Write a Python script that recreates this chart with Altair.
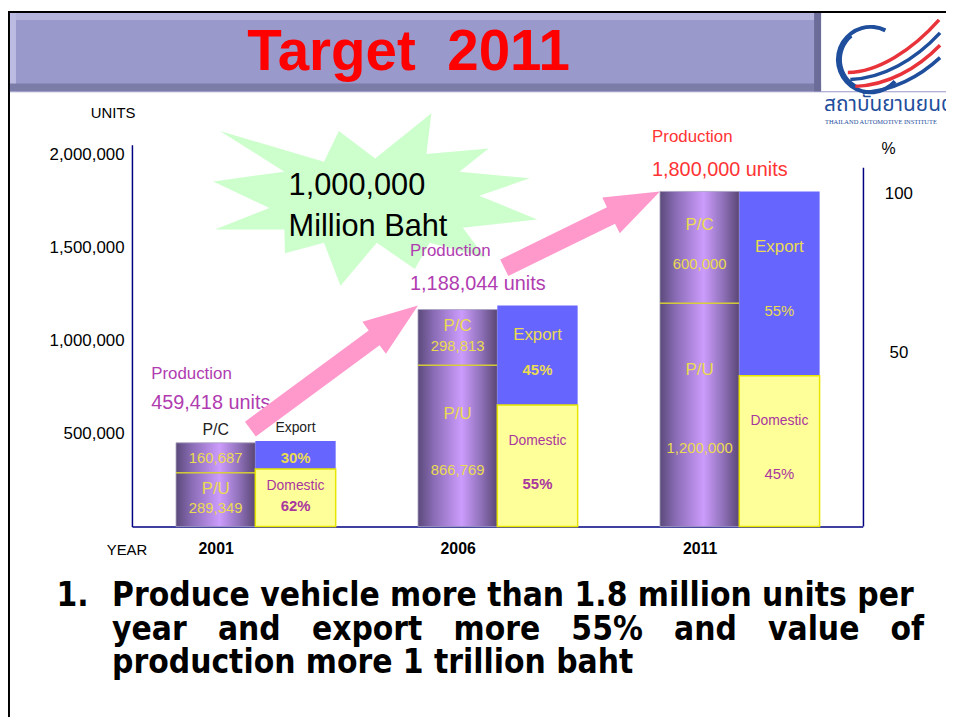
import math
import altair as alt
import pandas as pd

# ---------------- data ----------------
years = ["2001", "2006", "2011"]
production = [459418, 1188044, 1800000]
production_text = ["459,418 units", "1,188,044 units", "1,800,000 units"]
pc_units = [160687, 298813, 600000]
pc_text = ["160,687", "298,813", "600,000"]
pu_units = [289349, 866769, 1200000]
pu_text = ["289,349", "866,769", "1,200,000"]
export_pct = [30, 45, 55]
domestic_pct = [62, 55, 45]
unit_ticks = [500000, 1000000, 1500000, 2000000]
pct_ticks = [50, 100]
title_text = "Target\u00a0\u00a02011"
burst_lines = ["1,000,000", "Million Baht"]
NB = "\u00a0" * 3
bottom_num = "1."
bottom_lines = [
    "Produce vehicle more than 1.8 million units per",
    NB.join(["year", "and", "export", "more", "55%", "and", "value", "of"]),
    "production more 1 trillion baht",
]
logo_thai = "สถาบันยานยนต์"
logo_en = "THAILAND AUTOMOTIVE INSTITUTE"

# ---------------- style / layout ----------------
FONT = "Liberation Sans"
BFONT = "DejaVu Sans Condensed, Liberation Sans"
NAVY = "#000080"
YEL = "#eadb50"
PURT = "#a8379f"
DARK = "#222222"
prod_colors = ["#b03cb0", "#b03cb0", "#ff3333"]
W, H = 737, 385
YMAX = 2050000
XPAD = 0.51

XS = alt.Scale(type="point", domain=years, padding=XPAD)
XA = alt.Axis(title=None, ticks=False, domainColor=NAVY, domainWidth=1.5, labelAngle=0,
              labelOffset=-40, labelPadding=14, labelFont=FONT, labelFontSize=16,
              labelFontWeight="bold", labelColor="black", grid=False)
YS = alt.Scale(domain=[0, YMAX], nice=False, zero=True)
YA = alt.Axis(title=None, ticks=False, domainColor=NAVY, domainWidth=1.5, values=unit_ticks,
              labelExpr="format(datum.value, ',')", labelFont=FONT, labelFontSize=17,
              labelColor="black", labelPadding=8, grid=False)


def X():
    return alt.X("year:N", scale=XS, axis=XA, title=None)


def Y(f):
    return alt.Y(f, type="quantitative", scale=YS, axis=YA, title=None)


def px(i):
    step = W / (len(years) - 1 + 2 * XPAD)
    return step * (XPAD + i)


def py(v):
    return H * (1 - v / YMAX)


D = pd.DataFrame({"k": [0]})


def rect(x, x2, y, y2, color):
    return alt.Chart(D).mark_rect(color=color).encode(
        x=alt.value(x), x2=alt.value(x2), y=alt.value(y), y2=alt.value(y2))


def label(text, x, y, size, color="black", weight="normal", align="center", font=FONT):
    return alt.Chart(D).mark_text(text=text, fontSize=size, color=color, fontWeight=weight,
                                  align=align, baseline="middle", font=font).encode(
        x=alt.value(x), y=alt.value(y))


# ---------------- tables ----------------
left_rows, right_rows, lab = [], [], []


def add(i, text, y, color, size, side, weight="normal", place="in"):
    lab.append(dict(year=years[i], text=text, y=y, color=color, size=size,
                    side=side, weight=weight, place=place))


def at(s, e, f):
    return e - f * (e - s)


for i, yr in enumerate(years):
    pu0, pu1 = 0, pu_units[i]
    pc0, pc1 = pu1, pu1 + pc_units[i]
    dom1 = production[i] * domestic_pct[i] / (domestic_pct[i] + export_pct[i])
    ex0, ex1 = dom1, production[i]
    left_rows += [dict(year=yr, seg="P/U", start=pu0, end=pu1),
                  dict(year=yr, seg="P/C", start=pc0, end=pc1)]
    right_rows += [dict(year=yr, seg="Domestic", start=0, end=dom1),
                   dict(year=yr, seg="Export", start=ex0, end=ex1)]
    w = "bold" if i < 2 else "normal"
    if i == 0:
        add(i, "P/C", pc1, DARK, 16, "L", place="above")
        add(i, "Export", ex1, DARK, 14, "R", place="above")
        add(i, pc_text[i], at(pc0, pc1, .5), YEL, 15, "L")
        add(i, f"{export_pct[i]}%", at(ex0, ex1, .6), YEL, 15, "R", "bold")
    else:
        add(i, "P/C", at(pc0, pc1, .3), YEL, 17, "L")
        add(i, pc_text[i], at(pc0, pc1, .65), YEL, 15, "L")
        add(i, "Export", at(ex0, ex1, .3), YEL, 17, "R")
        add(i, f"{export_pct[i]}%", at(ex0, ex1, .65), YEL, 15, "R", w)
    add(i, "P/U", at(pu0, pu1, .3), YEL, 17, "L")
    add(i, pu_text[i], at(pu0, pu1, .65), YEL, 15, "L")
    add(i, "Domestic", at(0, dom1, .3), PURT, 14, "R")
    add(i, f"{domestic_pct[i]}%", at(0, dom1, .65), PURT, 15, "R", w)

left = pd.DataFrame(left_rows)
right = pd.DataFrame(right_rows)
labels = pd.DataFrame(lab)
prod_df = pd.DataFrame({"year": years, "top": production, "text": production_text,
                        "color": prod_colors})
pu_df = pd.DataFrame({"year": years, "pu": pu_units})

# ---------------- decorations ----------------
deco = [
    rect(-125, -123, -135, 577, "black"),
    rect(-125, 821, -135, -133, "black"),
    rect(-123, 821, -54, -53, "#9999cc"),
    rect(-123, 695, -133, -54, "#9999cc"),
    rect(-123, 695, -133, -126, "#b4b4dc"),
    rect(-123, -117, -133, -54, "#bcbce2"),
    rect(-123, 695, -62, -54, "#7c7ca8"),
    rect(688, 695, -133, -54, "#6c6c98"),
    label(title_text, 279, -93, 57, "#ff0000", "bold"),
    alt.Chart(D).mark_arc(radius=35, radius2=31, theta=2.3, theta2=6.75, color="#1f4e9c").encode(
        x=alt.value(745), y=alt.value(-86)),
    alt.Chart(D).mark_arc(radius=33, radius2=29, theta=3.6, theta2=5.6, color="#1f4e9c").encode(
        x=alt.value(745), y=alt.value(-86)),
]
stripes = [
    ("M-0.9,0.5 C-0.3,0.5 0.4,0.05 0.94,-0.56", "#e8333a"),
    ("M-0.85,0.64 C-0.2,0.62 0.45,0.25 0.96,-0.3", "#1f4e9c"),
    ("M-0.75,0.78 C-0.1,0.76 0.5,0.42 0.96,-0.05", "#e8333a"),
    ("M-0.6,0.9 C0,0.88 0.55,0.58 0.96,0.2", "#1f4e9c"),
]
for path, col in stripes:
    deco.append(alt.Chart(D).mark_point(shape=path, size=10000, filled=False, stroke=col,
                                        strokeWidth=3.5, opacity=1).encode(
        x=alt.value(767), y=alt.value(-98)))
deco += [
    label(logo_thai, 698, -40, 21, "#1f4e9c", align="left",
          font="Noto Sans Thai, Noto Sans, DejaVu Sans, sans-serif"),
    label(logo_en, 699, -23, 6.5, "#1f4e9c", align="left", font="Liberation Serif"),
]

burst_pts = [(-156.3, -78), (-51.3, -47), (-36.3, -78), (0.3, -50.3), (57, -96), (52, -54.7),
             (114.7, -60.3), (85.3, -37), (156.3, -30.3), (105.3, -12.7), (163.7, 11.3),
             (88.7, 19.7), (111.3, 49.7), (55.3, 34.7), (40.3, 61.3), (2, 34.7), (-34.7, 78),
             (-51.3, 34.7), (-90.7, 45.3), (-91.3, 21.3), (-161.3, 21.3), (-106.3, -0.3),
             (-163, -27), (-91.3, -37)]
burst_path = "M" + " L".join(f"{a/100:.4f},{b/100:.4f}" for a, b in burst_pts) + " Z"
burst = [
    alt.Chart(D).mark_point(shape=burst_path, size=40000, filled=True, color="#ccffcc",
                            opacity=1, strokeWidth=0).encode(x=alt.value(245), y=alt.value(64)),
    label(burst_lines[0], 158, 42, 31, align="left"),
    label(burst_lines[1], 158, 83, 31, align="left"),
]

# ---------------- bars ----------------
grad = alt.LinearGradient(gradient="linear", x1=0, x2=1, y1=0, y2=0, stops=[
    alt.GradientStop(color="#5b4a7a", offset=0),
    alt.GradientStop(color="#8a6cb6", offset=0.2),
    alt.GradientStop(color="#cc9cfc", offset=0.55),
    alt.GradientStop(color="#8e70b8", offset=0.8),
    alt.GradientStop(color="#5a4675", offset=1)])

bars = [
    alt.Chart(left).mark_bar(width=80, xOffset=-40, color=grad, stroke="#a8a0c0",
                             strokeWidth=0.8).encode(x=X(), y=Y("start"), y2="end"),
    alt.Chart(pu_df).mark_tick(orient="horizontal", size=80, thickness=1.5, color="#e8e000",
                               xOffset=-40).encode(x=X(), y=Y("pu")),
    alt.Chart(right[right.seg == "Export"]).mark_bar(width=81, xOffset=40.5, color="#6666ff").encode(
        x=X(), y=Y("start"), y2="end"),
    alt.Chart(right[right.seg == "Domestic"]).mark_bar(width=81, xOffset=40.5, color="#ffff99",
                                                       stroke="#e6e600", strokeWidth=1.5).encode(
        x=X(), y=Y("start"), y2="end"),
]


def tlayer(df, dx, dy=0, weight="normal", align="center"):
    return alt.Chart(df).mark_text(dx=dx, dy=dy, fontWeight=weight, align=align,
                                   baseline="middle", font=FONT).encode(
        x=X(), y=Y("y"), text="text:N", color=alt.Color("color:N", scale=None),
        size=alt.Size("size:Q", scale=None))


texts = []
for side, dx in (("L", -40), ("R", 40.5)):
    for wt in ("normal", "bold"):
        sub = labels[(labels.side == side) & (labels.weight == wt) & (labels.place == "in")]
        if len(sub):
            texts.append(tlayer(sub, dx, 0, wt))
    sub = labels[(labels.side == side) & (labels.place == "above")]
    texts.append(tlayer(sub, dx, -13))


def plabel(df, field, dx, dy, size):
    return alt.Chart(df).mark_text(dx=dx, dy=dy, align="left", baseline="middle", font=FONT,
                                   fontSize=size).encode(
        x=X(), y=Y("top"), text=f"{field}:N", color=alt.Color("color:N", scale=None))


p0 = prod_df.iloc[:1].assign(word="Production")
p12 = prod_df.iloc[1:].assign(word="Production")
texts += [plabel(p0, "word", -105, -68, 17), plabel(p0, "text", -105, -38, 20),
          plabel(p12, "word", -88, -55, 17), plabel(p12, "text", -88, -22, 20)]

# ---------------- arrows ----------------


def arrow(i_from, i_to, tail_dx, tail_dy):
    tipx, tipy = px(i_to) - 80, py(production[i_to])
    tx, ty = px(i_from) + tail_dx, py(production[i_from]) + tail_dy
    L = math.hypot(tipx - tx, tipy - ty)
    ang = math.degrees(math.atan2(ty - tipy, tipx - tx))
    h, w, s = 55, 40, 18.5
    pts = [(0, 0), (-h, -w / 2), (-h, -s / 2), (-L, -s / 2), (-L, s / 2), (-h, s / 2), (-h, w / 2)]
    path = "M" + " L".join(f"{a/100:.4f},{b/100:.4f}" for a, b in pts) + " Z"
    df = prod_df.iloc[i_to:i_to + 1]
    return alt.Chart(df).mark_point(shape=path, size=40000, filled=True, color="#ff99cc",
                                    opacity=1, strokeWidth=0, xOffset=-80,
                                    angle=(360 - ang) % 360).encode(x=X(), y=Y("top"))


arrows = [arrow(0, 1, -5, -12), arrow(1, 2, 7, -38)]

# ---------------- other texts ----------------
others = [
    rect(737, 738.5, 23, 385, NAVY),
    label("UNITS", -19, -32, 15),
    label("YEAR", -5, 409, 15),
    label("%", 763, 4, 16),
    label(bottom_num, -76, 455, 33.5, weight="bold", align="left", font=BFONT),
    label(bottom_lines[0], -20, 455, 33.5, weight="bold", align="left", font=BFONT),
    label(bottom_lines[1], -20, 489, 33.5, weight="bold", align="left", font=BFONT),
    label(bottom_lines[2], -20, 523, 33.5, weight="bold", align="left", font=BFONT),
]

main = alt.layer(*deco, *burst, *bars, *texts, *arrows, *others)

pct_layer = alt.Chart(pd.DataFrame({"pct": export_pct + domestic_pct})).mark_point(opacity=0).encode(
    y=alt.Y("pct:Q", scale=alt.Scale(domain=[-5, 115.3], nice=False, zero=False),
            axis=alt.Axis(orient="right", values=pct_ticks, ticks=False, domain=False, grid=False,
                          labelFont=FONT, labelFontSize=17, labelColor="black",
                          labelAlign="center", labelPadding=36, title=None)))

chart = alt.layer(main, pct_layer).resolve_scale(y="independent").properties(
    width=W, height=H,
    padding={"left": 125, "top": 135, "right": 84, "bottom": 192},
    autosize=alt.AutoSizeParams(type="none"),
    background="white",
).configure_view(stroke=None)

chart.save("out.html", embed_options={"renderer": "svg", "actions": False})
